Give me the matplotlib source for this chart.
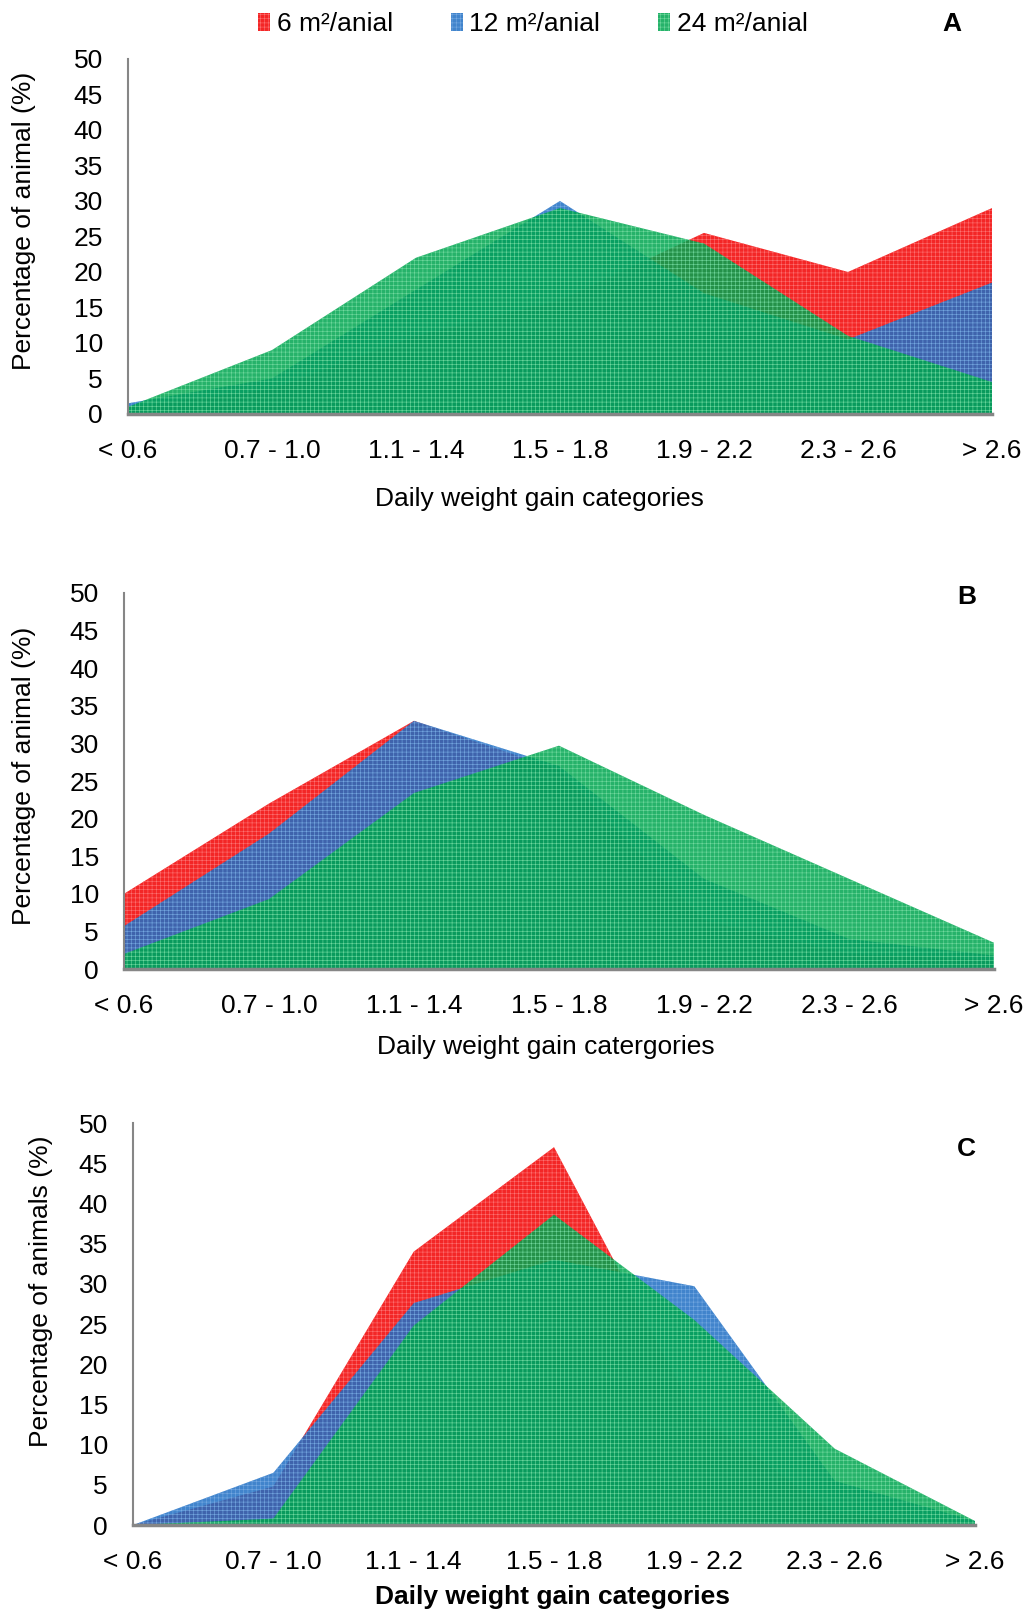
import matplotlib.pyplot as plt
from matplotlib.patches import Patch
import numpy as np

plt.rcParams['font.family'] = ['Liberation Sans', 'DejaVu Sans']
plt.rcParams['hatch.linewidth'] = 0.4

# categories and series values (percent of animals)
categories = ['< 0.6', '0.7 - 1.0', '1.1 - 1.4', '1.5 - 1.8', '1.9 - 2.2', '2.3 - 2.6', '> 2.6']
series_names = ['6 m\u00b2/anial', '12 m\u00b2/anial', '24 m\u00b2/anial']

a_6 = [1.0, 3.5, 11.0, 16.0, 25.5, 20.0, 29.0]
a_12 = [1.5, 5.0, 17.5, 30.0, 17.0, 10.5, 18.5]
a_24 = [1.0, 9.0, 22.0, 29.0, 24.0, 11.0, 4.5]

b_6 = [10.0, 22.0, 33.0, 26.5, 6.5, 2.0, 1.2]
b_12 = [5.7, 18.0, 33.0, 27.0, 12.0, 4.0, 1.8]
b_24 = [2.0, 9.3, 23.4, 29.7, 20.5, 12.0, 3.5]

c_6 = [0.0, 4.8, 34.0, 47.0, 14.0, 1.5, 0.0]
c_12 = [0.0, 6.5, 27.6, 33.0, 29.7, 5.5, 0.5]
c_24 = [0.0, 0.8, 24.8, 38.6, 25.5, 9.5, 0.5]

colors = ['#F20000', '#1F6FC4', '#00A550']
hatch_colors = ['#FF8080', '#7FB0E6', '#7FE0A8']

panels = [
    # values, axes rect, letter, ylabel, xlabel, bold xlabel, geometry of labels
    dict(data=[a_6, a_12, a_24], rect=[0.1246, 0.7435, 0.8413, 0.2200], letter='A',
         ylabel='Percentage of animal (%)', xlabel='Daily weight gain categories', bold=False,
         ylab_xy=(0.023, 0.863), xlab_xy=(0.525, 0.691), letter_xy=(0.927, 0.985)),
    dict(data=[b_6, b_12, b_24], rect=[0.1207, 0.3996, 0.8471, 0.2330], letter='B',
         ylabel='Percentage of animal (%)', xlabel='Daily weight gain catergories', bold=False,
         ylab_xy=(0.023, 0.519), xlab_xy=(0.531, 0.351), letter_xy=(0.941, 0.630)),
    dict(data=[c_6, c_12, c_24], rect=[0.1295, 0.0551, 0.8199, 0.2491], letter='C',
         ylabel='Percentage of animals (%)', xlabel='Daily weight gain categories', bold=True,
         ylab_xy=(0.040, 0.200), xlab_xy=(0.538, 0.0105), letter_xy=(0.941, 0.288)),
]

fig = plt.figure(figsize=(10.27, 16.14), dpi=100, facecolor='white')
x = np.arange(len(categories))

for p in panels:
    ax = fig.add_axes(p['rect'])
    for vals, col, hcol in zip(p['data'], colors, hatch_colors):
        ax.fill_between(x, 0, vals, facecolor=col, edgecolor=hcol, linewidth=0,
                        alpha=0.85, hatch='++++')
    ax.set_xlim(0, len(categories) - 1)
    ax.set_ylim(0, 50)
    ax.set_yticks(np.arange(0, 51, 5))
    ax.set_xticks(x)
    ax.set_xticklabels(categories)
    ax.tick_params(axis='both', length=0, labelsize=19)
    ax.tick_params(axis='x', pad=18)
    ax.tick_params(axis='y', pad=18)
    for s in ['top', 'right']:
        ax.spines[s].set_visible(False)
    for s in ['left', 'bottom']:
        ax.spines[s].set_color('#868686')
        ax.spines[s].set_linewidth(1.5)
    ax.spines['bottom'].set_linewidth(2.5)
    ax.set_axisbelow(False)

    fig.text(p['ylab_xy'][0], p['ylab_xy'][1], p['ylabel'], rotation=90,
             ha='center', va='center', fontsize=19)
    fig.text(p['xlab_xy'][0], p['xlab_xy'][1], p['xlabel'], ha='center', va='center',
             fontsize=19, fontweight='bold' if p['bold'] else 'normal')
    fig.text(p['letter_xy'][0], p['letter_xy'][1], p['letter'], ha='center', va='center',
             fontsize=19, fontweight='bold')

# legend on top
handles = [Patch(facecolor=c, edgecolor=h, hatch='++++', linewidth=0, alpha=0.85)
           for c, h in zip(colors, hatch_colors)]
fig.legend(handles, series_names, loc='center', bbox_to_anchor=(0.519, 0.985), ncol=3,
           frameon=False, fontsize=19, handlelength=0.45, handleheight=0.7,
           handletextpad=0.25, columnspacing=2.2)

fig.savefig('out.png', dpi=100, facecolor='white')
